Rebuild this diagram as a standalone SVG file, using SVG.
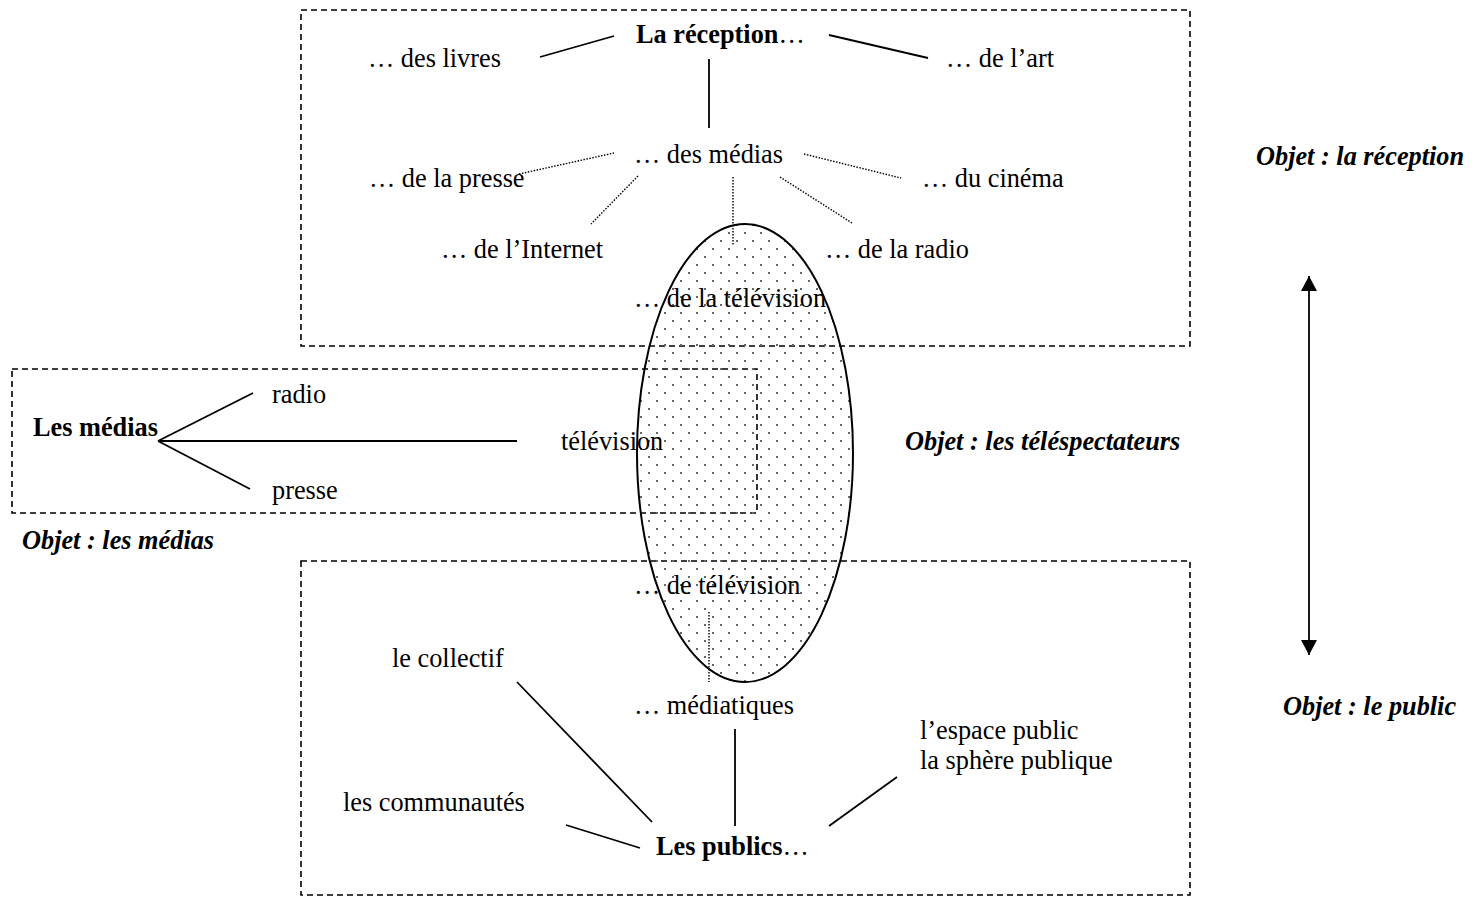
<svg xmlns="http://www.w3.org/2000/svg" width="1478" height="899" viewBox="0 0 1478 899">
<style>
text{font-family:"Liberation Serif","Times New Roman",serif;font-size:26.3px;fill:#000}
.b{font-weight:bold}
.bi{font-weight:bold;font-style:italic}
.box{fill:none;stroke:#000;stroke-width:1.6;stroke-dasharray:6 4}
.ln{stroke:#000;stroke-width:1.8;fill:none}
.dt{stroke:#000;stroke-width:1.4;stroke-dasharray:1.5 1.5;fill:none}
</style>
<defs>
<pattern id="dots" width="16" height="16" patternUnits="userSpaceOnUse">
<rect x="0" y="0" width="2" height="2" fill="#666"/>
<rect x="8" y="8" width="2" height="2" fill="#666"/>
</pattern>
<marker id="ah" markerWidth="16" markerHeight="16" refX="15" refY="8" orient="auto-start-reverse" markerUnits="userSpaceOnUse">
<path d="M0,0 L15,8 L0,16 Z" fill="#000"/>
</marker>
</defs>
<g id="boxes">
<rect id="box-reception" class="box" x="301" y="10" width="889" height="336"/>
<rect id="box-medias" class="box" x="12" y="369" width="745" height="144"/>
<rect id="box-public" class="box" x="301" y="561" width="889" height="334"/>
</g>
<g id="ellipse-telespectateurs">
<ellipse cx="745" cy="453" rx="108" ry="229" fill="url(#dots)" stroke="#000" stroke-width="2"/>
</g>
<g id="connectors">
<line class="ln" x1="540" y1="57" x2="614" y2="36"/>
<line class="ln" x1="829" y1="35" x2="928" y2="58"/>
<line class="ln" x1="709" y1="59" x2="709" y2="128"/>
<line class="dt" x1="519" y1="174" x2="614" y2="153"/>
<line class="dt" x1="638" y1="176" x2="591" y2="224"/>
<line class="dt" x1="733" y1="177" x2="733" y2="246"/>
<line class="dt" x1="804" y1="154" x2="901" y2="178"/>
<line class="dt" x1="780" y1="177" x2="852" y2="223"/>
<line class="ln" x1="158" y1="441" x2="253" y2="393"/>
<line class="ln" x1="158" y1="441" x2="517" y2="441"/>
<line class="ln" x1="158" y1="441" x2="250" y2="489"/>
<line class="dt" x1="709" y1="612" x2="709" y2="682"/>
<line class="ln" x1="517" y1="682" x2="652" y2="822"/>
<line class="ln" x1="566" y1="825" x2="640" y2="848"/>
<line class="ln" x1="735" y1="729" x2="735" y2="826"/>
<line class="ln" x1="897" y1="777" x2="829" y2="826"/>
<line class="ln" x1="1309" y1="276" x2="1309" y2="655" marker-start="url(#ah)" marker-end="url(#ah)"/>
</g>
<g id="node-reception"><text x="636" y="43"><tspan class="b">La réception</tspan>…</text></g>
<g id="node-livres"><text x="368" y="67">… des livres</text></g>
<g id="node-art"><text x="946" y="67">… de l’art</text></g>
<g id="node-des-medias"><text x="634" y="163">… des médias</text></g>
<g id="node-presse"><text x="369" y="187">… de la presse</text></g>
<g id="node-cinema"><text x="922" y="187">… du cinéma</text></g>
<g id="node-internet"><text x="441" y="258">… de l’Internet</text></g>
<g id="node-radio-r"><text x="825" y="258">… de la radio</text></g>
<g id="node-television-r"><text x="634" y="307">… de la télévision</text></g>
<g id="node-les-medias"><text class="b" x="33" y="436">Les médias</text></g>
<g id="node-radio"><text x="272" y="403">radio</text></g>
<g id="node-television"><text x="561" y="450">télévision</text></g>
<g id="node-presse-m"><text x="272" y="499">presse</text></g>
<g id="label-objet-medias"><text class="bi" x="22" y="549">Objet : les médias</text></g>
<g id="label-objet-telespectateurs"><text class="bi" x="905" y="450">Objet : les téléspectateurs</text></g>
<g id="label-objet-reception"><text class="bi" x="1256" y="165">Objet : la réception</text></g>
<g id="label-objet-public"><text class="bi" x="1283" y="715">Objet : le public</text></g>
<g id="node-de-television"><text x="634" y="594">… de télévision</text></g>
<g id="node-collectif"><text x="392" y="667">le collectif</text></g>
<g id="node-mediatiques"><text x="634" y="714">… médiatiques</text></g>
<g id="node-espace"><text x="920" y="739">l’espace public</text><text x="920" y="769">la sphère publique</text></g>
<g id="node-communautes"><text x="343" y="811">les communautés</text></g>
<g id="node-publics"><text x="656" y="855"><tspan class="b">Les publics</tspan>…</text></g>
</svg>
